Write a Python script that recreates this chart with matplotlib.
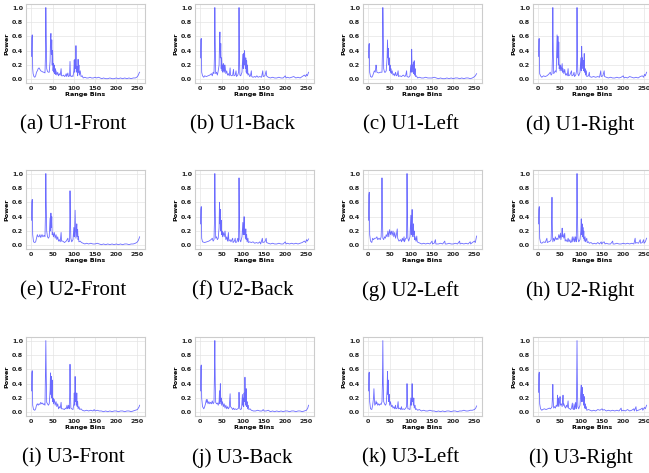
import matplotlib
matplotlib.use('Agg')
import matplotlib.pyplot as plt

# Range-bin power profiles, (bin, power) pairs
u1_front = [(0,0.32),(1,0.58),(2,0.62),(3,0.15),(4,0.08),(6,0.04),(8,0.03),(10,0.05),(12,0.10),(14,0.12),(16,0.15),(18,0.16),(20,0.14),(22,0.12),(25,0.11),(28,0.10),(30,0.10),(32,0.09),(33,0.30),(34,1.0),(35,0.60),(36,0.15),(38,0.11),(40,0.10),(42,0.10),(44,0.25),(45,0.55),(46,0.64),(47,0.35),(48,0.55),(49,0.20),(50,0.40),(51,0.12),(52,0.22),(53,0.10),(54,0.20),(55,0.08),(56,0.15),(57,0.07),(58,0.12),(60,0.06),(62,0.10),(64,0.05),(66,0.08),(68,0.06),(70,0.15),(71,0.05),(74,0.05),(76,0.06),(78,0.04),(80,0.05),(82,0.08),(83,0.04),(86,0.09),(87,0.04),(90,0.05),(91,0.25),(92,0.05),(94,0.04),(96,0.05),(98,0.04),(100,0.12),(101,0.27),(102,0.10),(103,0.28),(104,0.15),(105,0.47),(106,0.20),(107,0.10),(108,0.18),(109,0.05),(110,0.28),(111,0.10),(112,0.20),(113,0.06),(115,0.12),(117,0.04),(120,0.05),(122,0.02),(126,0.03),(130,0.02),(134,0.02),(138,0.03),(142,0.02),(146,0.02),(150,0.03),(154,0.02),(158,0.03),(162,0.02),(166,0.01),(170,0.02),(175,0.01),(180,0.01),(185,0.02),(190,0.01),(195,0.01),(200,0.02),(205,0.01),(210,0.02),(215,0.01),(220,0.02),(225,0.01),(230,0.02),(235,0.01),(240,0.02),(245,0.02),(248,0.03),(250,0.04),(252,0.06),(254,0.09),(255,0.10)]

u1_back = [(0,0.30),(1,0.55),(2,0.57),(3,0.10),(5,0.05),(8,0.03),(10,0.05),(14,0.04),(18,0.05),(22,0.06),(26,0.08),(28,0.05),(30,0.10),(32,0.08),(33,0.30),(34,1.0),(35,0.50),(36,0.08),(38,0.10),(40,0.06),(42,0.12),(44,0.20),(45,0.50),(46,0.66),(47,0.30),(48,0.50),(49,0.15),(50,0.30),(51,0.12),(52,0.20),(53,0.10),(54,0.22),(55,0.12),(56,0.20),(57,0.10),(58,0.20),(60,0.08),(62,0.12),(64,0.06),(66,0.08),(68,0.05),(70,0.16),(71,0.06),(74,0.05),(76,0.06),(78,0.14),(79,0.05),(82,0.06),(84,0.12),(85,0.04),(88,0.06),(90,0.10),(91,1.0),(92,0.30),(93,0.06),(95,0.05),(98,0.10),(100,0.35),(101,0.15),(102,0.36),(103,0.20),(104,0.40),(105,0.25),(106,0.15),(107,0.30),(108,0.10),(109,0.26),(110,0.08),(111,0.20),(112,0.06),(114,0.08),(116,0.04),(118,0.05),(120,0.12),(121,0.04),(124,0.03),(128,0.04),(130,0.03),(133,0.05),(136,0.03),(140,0.04),(144,0.03),(147,0.12),(148,0.04),(152,0.05),(155,0.12),(156,0.05),(160,0.03),(165,0.02),(170,0.03),(175,0.02),(180,0.02),(185,0.03),(190,0.02),(195,0.02),(200,0.05),(202,0.02),(205,0.03),(210,0.02),(215,0.03),(220,0.04),(225,0.02),(230,0.03),(235,0.02),(240,0.04),(245,0.06),(248,0.04),(250,0.07),(252,0.05),(255,0.10)]

u1_left = [(0,0.30),(1,0.48),(2,0.50),(3,0.10),(5,0.04),(8,0.03),(10,0.05),(14,0.12),(16,0.10),(18,0.20),(19,0.16),(20,0.10),(24,0.09),(28,0.10),(30,0.10),(32,0.10),(33,0.35),(34,1.0),(35,0.70),(36,0.15),(38,0.10),(40,0.10),(42,0.12),(44,0.30),(45,0.55),(46,0.30),(47,0.43),(48,0.20),(49,0.30),(50,0.12),(51,0.20),(52,0.10),(53,0.15),(54,0.08),(56,0.12),(58,0.06),(60,0.08),(62,0.05),(64,0.10),(66,0.05),(68,0.06),(70,0.12),(71,0.04),(74,0.05),(78,0.04),(82,0.06),(86,0.04),(88,0.06),(90,0.12),(91,0.04),(95,0.03),(98,0.05),(100,0.20),(101,0.10),(102,0.42),(103,0.15),(104,0.20),(105,0.10),(106,0.24),(107,0.08),(108,0.26),(109,0.06),(110,0.15),(111,0.04),(113,0.05),(116,0.02),(120,0.03),(125,0.02),(130,0.02),(135,0.03),(140,0.02),(145,0.02),(150,0.02),(155,0.03),(160,0.02),(165,0.01),(170,0.02),(175,0.01),(180,0.01),(185,0.02),(190,0.01),(195,0.02),(200,0.01),(205,0.02),(210,0.02),(215,0.01),(220,0.02),(225,0.01),(230,0.02),(235,0.02),(240,0.01),(245,0.02),(248,0.03),(250,0.04),(252,0.05),(254,0.07),(255,0.08)]

u1_right = [(0,0.32),(1,0.56),(2,0.57),(3,0.08),(5,0.05),(8,0.03),(12,0.05),(16,0.04),(20,0.05),(24,0.07),(28,0.10),(30,0.06),(32,0.08),(33,0.30),(34,1.0),(35,0.40),(36,0.08),(38,0.10),(40,0.12),(42,0.10),(44,0.62),(45,0.30),(46,0.60),(47,0.20),(48,0.52),(49,0.15),(50,0.20),(51,0.12),(52,0.20),(54,0.12),(56,0.22),(57,0.10),(58,0.15),(60,0.08),(62,0.14),(64,0.06),(66,0.08),(68,0.05),(70,0.15),(71,0.05),(74,0.06),(78,0.12),(79,0.05),(82,0.06),(84,0.10),(85,0.04),(88,0.06),(90,0.12),(91,1.0),(92,0.30),(93,0.08),(95,0.05),(98,0.10),(100,0.30),(101,0.12),(102,0.46),(103,0.20),(104,0.30),(105,0.15),(106,0.26),(107,0.12),(108,0.36),(109,0.10),(110,0.15),(111,0.06),(113,0.12),(114,0.04),(118,0.05),(120,0.10),(121,0.04),(125,0.03),(130,0.04),(135,0.03),(140,0.04),(144,0.03),(147,0.12),(148,0.04),(152,0.05),(155,0.12),(156,0.04),(160,0.03),(165,0.02),(170,0.03),(175,0.02),(180,0.02),(185,0.03),(190,0.02),(195,0.03),(200,0.05),(202,0.02),(205,0.03),(210,0.02),(215,0.04),(220,0.03),(225,0.02),(230,0.03),(235,0.02),(240,0.04),(245,0.05),(248,0.03),(250,0.07),(252,0.05),(255,0.10)]

u2_front = [(0,0.35),(1,0.60),(2,0.64),(3,0.15),(5,0.05),(8,0.04),(10,0.05),(12,0.10),(14,0.15),(16,0.12),(18,0.12),(20,0.15),(22,0.11),(25,0.15),(27,0.12),(30,0.14),(32,0.12),(33,0.40),(34,1.0),(35,0.55),(36,0.20),(38,0.12),(40,0.10),(42,0.12),(44,0.38),(45,0.20),(46,0.45),(47,0.25),(48,0.40),(49,0.15),(50,0.18),(52,0.12),(54,0.18),(56,0.10),(58,0.15),(60,0.08),(62,0.12),(64,0.06),(66,0.08),(68,0.05),(70,0.18),(71,0.06),(74,0.06),(78,0.04),(82,0.06),(86,0.10),(87,0.05),(90,0.06),(91,0.76),(92,0.35),(93,0.10),(95,0.05),(98,0.08),(100,0.25),(101,0.12),(102,0.20),(103,0.49),(104,0.20),(105,0.10),(106,0.20),(107,0.30),(108,0.12),(109,0.22),(110,0.08),(111,0.12),(112,0.05),(115,0.06),(118,0.04),(122,0.03),(126,0.02),(130,0.03),(135,0.02),(140,0.03),(145,0.02),(150,0.02),(155,0.03),(160,0.02),(165,0.01),(170,0.02),(175,0.01),(180,0.02),(185,0.01),(190,0.02),(195,0.01),(200,0.02),(205,0.01),(210,0.02),(215,0.01),(220,0.02),(225,0.02),(230,0.01),(235,0.02),(240,0.02),(245,0.03),(248,0.04),(250,0.05),(252,0.07),(254,0.10),(255,0.12)]

u2_back = [(0,0.30),(1,0.50),(2,0.54),(3,0.10),(5,0.05),(10,0.04),(15,0.05),(20,0.06),(25,0.08),(28,0.10),(30,0.06),(32,0.08),(33,0.30),(34,1.0),(35,0.50),(36,0.10),(38,0.12),(40,0.08),(42,0.10),(44,0.25),(45,0.60),(46,0.30),(47,0.50),(48,0.20),(49,0.35),(50,0.15),(51,0.20),(52,0.12),(54,0.18),(56,0.12),(58,0.20),(60,0.08),(62,0.12),(64,0.06),(66,0.18),(67,0.06),(70,0.08),(72,0.05),(76,0.10),(77,0.04),(80,0.06),(82,0.10),(83,0.04),(86,0.05),(88,0.10),(90,0.05),(91,0.94),(92,0.35),(93,0.08),(95,0.05),(98,0.12),(100,0.32),(101,0.15),(102,0.20),(103,0.40),(104,0.15),(105,0.22),(106,0.10),(107,0.23),(108,0.08),(109,0.15),(110,0.05),(112,0.10),(113,0.04),(116,0.05),(120,0.04),(124,0.05),(128,0.03),(132,0.04),(136,0.03),(140,0.05),(142,0.02),(146,0.10),(147,0.04),(152,0.05),(155,0.10),(156,0.04),(160,0.03),(165,0.02),(170,0.03),(175,0.02),(180,0.02),(185,0.03),(190,0.02),(195,0.02),(200,0.05),(202,0.02),(205,0.03),(210,0.02),(215,0.03),(220,0.02),(225,0.03),(230,0.02),(235,0.03),(240,0.04),(245,0.06),(248,0.04),(250,0.08),(252,0.06),(255,0.09)]

u2_left = [(0,0.35),(1,0.70),(2,0.74),(3,0.15),(5,0.06),(8,0.04),(10,0.10),(12,0.08),(15,0.10),(18,0.10),(20,0.12),(22,0.08),(25,0.10),(28,0.08),(30,0.12),(31,0.30),(32,0.94),(33,0.40),(34,0.10),(36,0.08),(38,0.12),(40,0.10),(42,0.15),(44,0.12),(46,0.20),(48,0.12),(50,0.22),(52,0.15),(54,0.20),(56,0.14),(58,0.20),(60,0.12),(62,0.18),(64,0.10),(66,0.15),(68,0.23),(69,0.10),(72,0.06),(76,0.08),(78,0.05),(80,0.10),(82,0.06),(84,0.12),(85,0.05),(88,0.10),(90,0.10),(91,1.0),(92,0.40),(93,0.10),(95,0.06),(98,0.12),(100,0.42),(101,0.15),(102,0.30),(103,0.50),(104,0.20),(105,0.12),(106,0.30),(107,0.15),(108,0.20),(109,0.08),(110,0.12),(112,0.06),(114,0.13),(115,0.05),(118,0.04),(122,0.03),(126,0.02),(130,0.03),(135,0.02),(140,0.03),(145,0.02),(150,0.06),(151,0.02),(155,0.03),(158,0.08),(159,0.02),(165,0.02),(170,0.03),(175,0.02),(180,0.06),(181,0.02),(185,0.02),(190,0.03),(195,0.02),(200,0.02),(205,0.03),(210,0.02),(215,0.06),(216,0.02),(220,0.03),(225,0.02),(230,0.03),(235,0.02),(240,0.05),(241,0.02),(245,0.04),(250,0.06),(252,0.04),(255,0.13)]

u2_right = [(0,0.30),(1,0.50),(2,0.54),(3,0.10),(5,0.04),(8,0.03),(12,0.05),(16,0.04),(20,0.10),(21,0.04),(24,0.05),(28,0.06),(30,0.08),(31,0.30),(32,0.67),(33,0.20),(34,0.05),(36,0.10),(38,0.06),(40,0.12),(42,0.08),(44,0.10),(46,0.08),(48,0.15),(50,0.10),(52,0.17),(53,0.08),(55,0.15),(56,0.24),(57,0.12),(58,0.16),(60,0.10),(62,0.17),(63,0.06),(65,0.08),(68,0.05),(70,0.10),(72,0.05),(74,0.08),(76,0.04),(78,0.05),(80,0.12),(81,0.05),(84,0.12),(85,0.05),(88,0.12),(89,0.05),(90,0.30),(91,1.0),(92,0.40),(93,0.10),(95,0.05),(98,0.08),(100,0.20),(101,0.37),(102,0.15),(103,0.30),(104,0.12),(105,0.25),(106,0.10),(107,0.20),(108,0.06),(110,0.12),(111,0.05),(114,0.10),(115,0.04),(118,0.05),(120,0.03),(124,0.04),(128,0.02),(132,0.03),(136,0.02),(140,0.04),(144,0.02),(148,0.05),(149,0.02),(152,0.04),(155,0.05),(157,0.02),(160,0.03),(165,0.02),(170,0.02),(175,0.06),(176,0.02),(180,0.02),(185,0.03),(190,0.02),(195,0.02),(200,0.03),(205,0.02),(210,0.03),(215,0.02),(220,0.03),(225,0.02),(228,0.10),(229,0.03),(232,0.04),(236,0.03),(240,0.08),(241,0.03),(245,0.04),(248,0.08),(249,0.03),(252,0.05),(255,0.10)]

u3_front = [(0,0.30),(1,0.55),(2,0.58),(3,0.10),(5,0.04),(8,0.03),(10,0.05),(12,0.10),(14,0.12),(16,0.10),(18,0.12),(20,0.11),(22,0.14),(24,0.12),(26,0.13),(28,0.11),(30,0.12),(32,0.10),(33,0.50),(34,1.0),(35,0.50),(36,0.14),(38,0.12),(40,0.10),(42,0.12),(44,0.30),(45,0.55),(46,0.25),(47,0.50),(48,0.20),(49,0.45),(50,0.15),(51,0.20),(52,0.12),(54,0.18),(56,0.10),(58,0.15),(60,0.08),(62,0.12),(64,0.05),(66,0.08),(68,0.06),(70,0.14),(71,0.05),(74,0.05),(78,0.04),(80,0.06),(82,0.05),(84,0.10),(85,0.05),(88,0.10),(89,0.05),(90,0.20),(91,0.67),(92,0.25),(93,0.06),(95,0.05),(98,0.04),(100,0.12),(101,0.27),(102,0.10),(103,0.50),(104,0.15),(105,0.27),(106,0.10),(107,0.27),(108,0.08),(109,0.15),(110,0.05),(112,0.08),(114,0.04),(117,0.05),(120,0.03),(125,0.02),(130,0.03),(135,0.02),(140,0.03),(145,0.02),(148,0.04),(150,0.02),(155,0.03),(160,0.02),(165,0.02),(170,0.01),(175,0.02),(180,0.01),(185,0.02),(190,0.01),(195,0.02),(200,0.02),(205,0.01),(210,0.02),(215,0.02),(220,0.01),(225,0.02),(230,0.02),(235,0.01),(240,0.02),(245,0.03),(250,0.04),(252,0.06),(254,0.08),(255,0.10)]

u3_back = [(0,0.30),(1,0.63),(2,0.66),(3,0.20),(5,0.08),(8,0.05),(10,0.08),(12,0.12),(14,0.18),(15,0.14),(16,0.18),(18,0.12),(20,0.15),(22,0.12),(24,0.14),(26,0.12),(28,0.16),(30,0.12),(32,0.14),(33,0.50),(34,1.0),(35,0.40),(36,0.14),(38,0.12),(40,0.13),(42,0.10),(44,0.15),(45,0.30),(46,0.12),(47,0.40),(48,0.15),(49,0.20),(50,0.10),(52,0.15),(54,0.08),(56,0.12),(58,0.06),(60,0.10),(62,0.05),(64,0.08),(66,0.05),(68,0.07),(70,0.26),(71,0.08),(74,0.06),(76,0.04),(78,0.06),(80,0.04),(82,0.05),(85,0.04),(88,0.05),(90,0.06),(91,0.28),(92,0.10),(93,0.05),(95,0.04),(97,0.05),(99,0.25),(100,0.10),(101,0.20),(102,0.08),(103,0.27),(104,0.15),(105,0.49),(106,0.20),(107,0.10),(108,0.33),(109,0.08),(110,0.15),(111,0.05),(113,0.10),(114,0.04),(117,0.05),(120,0.03),(125,0.02),(130,0.02),(135,0.03),(140,0.02),(145,0.02),(148,0.04),(150,0.02),(155,0.02),(160,0.03),(165,0.01),(170,0.02),(175,0.01),(180,0.02),(185,0.01),(190,0.02),(195,0.01),(200,0.02),(205,0.02),(210,0.01),(215,0.02),(220,0.02),(225,0.01),(230,0.02),(235,0.02),(240,0.01),(245,0.02),(250,0.03),(253,0.06),(255,0.10)]

u3_left = [(0,0.30),(1,0.54),(2,0.56),(3,0.15),(5,0.05),(8,0.04),(10,0.10),(12,0.20),(13,0.33),(14,0.20),(15,0.10),(17,0.12),(18,0.16),(19,0.12),(20,0.14),(22,0.10),(24,0.12),(26,0.10),(28,0.12),(30,0.11),(32,0.15),(33,0.40),(34,1.0),(35,0.40),(36,0.15),(38,0.12),(40,0.10),(42,0.12),(44,0.30),(45,0.57),(46,0.25),(47,0.45),(48,0.15),(49,0.25),(50,0.10),(52,0.15),(54,0.08),(56,0.10),(58,0.06),(60,0.08),(62,0.05),(64,0.10),(65,0.05),(68,0.06),(70,0.15),(71,0.05),(74,0.06),(76,0.04),(78,0.08),(79,0.04),(82,0.05),(85,0.04),(88,0.06),(90,0.08),(91,0.40),(92,0.15),(93,0.05),(95,0.05),(98,0.04),(100,0.20),(101,0.10),(102,0.18),(103,0.40),(104,0.15),(105,0.20),(106,0.10),(107,0.20),(108,0.06),(110,0.10),(111,0.04),(113,0.05),(116,0.03),(120,0.04),(125,0.02),(130,0.03),(135,0.02),(140,0.02),(145,0.03),(150,0.02),(155,0.02),(160,0.01),(165,0.02),(170,0.01),(175,0.02),(180,0.01),(185,0.02),(190,0.02),(195,0.01),(200,0.02),(205,0.02),(210,0.01),(215,0.02),(220,0.02),(225,0.03),(230,0.02),(235,0.02),(240,0.03),(245,0.03),(250,0.04),(253,0.06),(255,0.09)]

u3_right = [(0,0.28),(1,0.53),(2,0.56),(3,0.12),(5,0.05),(8,0.03),(10,0.04),(14,0.05),(18,0.04),(22,0.05),(26,0.06),(28,0.05),(30,0.06),(32,0.08),(33,0.20),(34,0.39),(35,0.15),(36,0.06),(38,0.08),(40,0.06),(42,0.10),(44,0.08),(45,0.24),(46,0.10),(47,0.20),(48,0.08),(50,0.15),(51,0.22),(52,0.10),(54,0.12),(56,0.08),(57,0.15),(58,0.24),(59,0.10),(60,0.12),(62,0.08),(64,0.06),(66,0.10),(68,0.07),(70,0.16),(71,0.06),(74,0.05),(76,0.04),(78,0.06),(80,0.13),(81,0.05),(83,0.04),(84,0.12),(85,0.04),(88,0.14),(89,0.05),(90,0.30),(91,1.0),(92,0.30),(93,0.08),(95,0.05),(98,0.10),(100,0.30),(101,0.38),(102,0.15),(103,0.35),(104,0.20),(105,0.15),(106,0.25),(107,0.10),(108,0.22),(109,0.06),(110,0.12),(111,0.05),(113,0.08),(114,0.03),(118,0.04),(122,0.03),(126,0.02),(130,0.03),(135,0.02),(140,0.04),(145,0.03),(150,0.05),(152,0.03),(155,0.04),(160,0.02),(165,0.03),(170,0.02),(175,0.03),(180,0.02),(185,0.03),(190,0.02),(195,0.06),(196,0.02),(200,0.03),(205,0.02),(210,0.04),(215,0.02),(220,0.03),(225,0.05),(226,0.02),(230,0.08),(231,0.02),(235,0.03),(240,0.04),(245,0.06),(246,0.03),(250,0.07),(252,0.05),(255,0.10)]

panels = [
    [u1_front, u1_back, u1_left, u1_right],
    [u2_front, u2_back, u2_left, u2_right],
    [u3_front, u3_back, u3_left, u3_right],
]
captions = [
    ['(a) U1-Front', '(b) U1-Back', '(c) U1-Left', '(d) U1-Right'],
    ['(e) U2-Front', '(f) U2-Back', '(g) U2-Left', '(h) U2-Right'],
    ['(i) U3-Front', '(j) U3-Back', '(k) U3-Left', '(l) U3-Right'],
]
x_ticks = [0, 50, 100, 150, 200, 250]
y_ticks = [0.0, 0.2, 0.4, 0.6, 0.8, 1.0]

W, H = 649, 473
col_left = [26, 195, 363, 533]
row_top = [4, 170, 337]
cap_y = [125, 291, 458]
ax_w, ax_h = 119, 79

fig = plt.figure(figsize=(W / 100, H / 100), dpi=100)

for r in range(3):
    for c in range(4):
        ax = fig.add_axes([col_left[c] / W, 1 - (row_top[r] + ax_h) / H,
                           ax_w / W, ax_h / H])
        pts = panels[r][c]
        xs = [p[0] for p in pts]
        ys = [p[1] for p in pts]
        ax.plot(xs, ys, color='#3a3aff', linewidth=0.6, alpha=0.75)
        ax.set_xticks(x_ticks)
        ax.set_yticks(y_ticks)
        ax.set_xticklabels([str(t) for t in x_ticks], fontsize=4.6, fontweight='bold')
        ax.set_yticklabels(['%.1f' % t for t in y_ticks], fontsize=4.6, fontweight='bold')
        ax.set_ylim(-0.05, 1.05)
        ax.tick_params(length=0, pad=2, colors='#222222')
        ax.grid(True, color='#e4e4e4', linewidth=0.5)
        ax.set_axisbelow(True)
        for s in ax.spines.values():
            s.set_color('#cccccc')
            s.set_linewidth(0.8)
        ax.set_xlabel('Range Bins', fontsize=4.6, fontweight='bold', labelpad=1)
        ax.set_ylabel('Power', fontsize=4.6, fontweight='bold', labelpad=2)
        fig.text((col_left[c] + ax_w / 2 - 12) / W, 1 - cap_y[r] / H, captions[r][c],
                 fontsize=15, family='Liberation Serif', ha='center', va='center')

fig.savefig('out.png', dpi=100)
